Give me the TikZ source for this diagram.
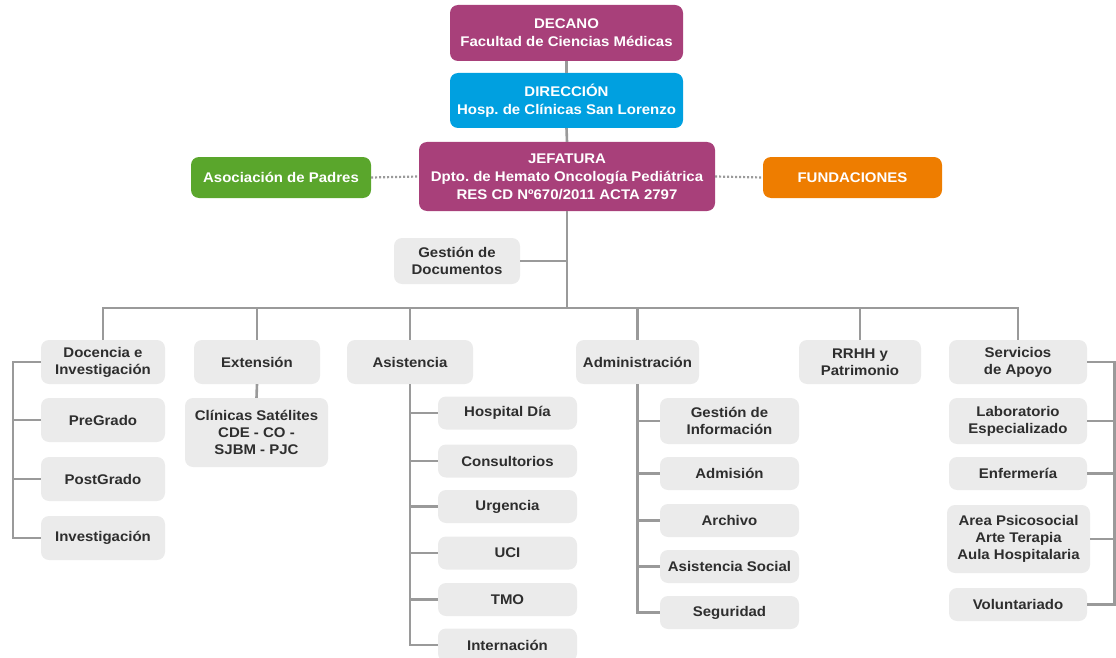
\documentclass[tikz,border=0pt]{standalone}
\usepackage{fontspec}
\setmainfont{Liberation Sans}[FakeStretch=1.07]
\definecolor{mag}{HTML}{A8407A}
\definecolor{blu}{HTML}{00A0E0}
\definecolor{grn}{HTML}{5AA62C}
\definecolor{org}{HTML}{EE7D00}
\definecolor{gfill}{HTML}{EBEBEB}
\definecolor{gline}{HTML}{9A9A9A}
\definecolor{gtext}{HTML}{2E2E2E}
\frenchspacing
\begin{document}
\begin{tikzpicture}[x=1pt,y=-1pt,
  box/.style={rounded corners=8pt, align=center, inner sep=0pt, font=\fontsize{14}{18}\selectfont\bfseries},
  cbox/.style={box, text=white},
  gbox/.style={box, fill=gfill, text=gtext, font=\fontsize{14}{17}\selectfont\bfseries},
  conn/.style={draw=gline, line width=2.6pt},
  dots/.style={draw=gline, line width=2.2pt, dash pattern=on 2pt off 2pt}]
\useasboundingbox (0,0) rectangle (1116,658);
% top
\node[cbox, fill=mag, minimum width=233, minimum height=56] (dec) at (566.5,33) {DECANO\\Facultad de Ciencias Médicas};
\node[cbox, fill=blu, minimum width=233, minimum height=55] (dir) at (566.5,100.5) {DIRECCIÓN\\Hosp. de Clínicas San Lorenzo};
\node[cbox, fill=mag, minimum width=296, minimum height=69] (jef) at (567,176.5) {JEFATURA\\Dpto. de Hemato Oncología Pediátrica\\RES CD Nº670/2011 ACTA 2797};
\node[cbox, fill=grn, minimum width=180, minimum height=41] (aso) at (281,177.5) {Asociación de Padres};
\node[cbox, fill=org, minimum width=179, minimum height=41] (fun) at (852.5,177.5) {FUNDACIONES};
\node[gbox, minimum width=126, minimum height=46] (gd) at (457,261) {Gestión de\\Documentos};
% level 2
\node[gbox, minimum width=124, minimum height=44] (doc) at (103,362) {Docencia e\\Investigación};
\node[gbox, minimum width=126, minimum height=44] (ext) at (257,362) {Extensión};
\node[gbox, minimum width=126, minimum height=44] (asi) at (410,362) {Asistencia};
\node[gbox, minimum width=123, minimum height=44] (adm) at (637.5,362) {Administración};
\node[gbox, minimum width=122, minimum height=44] (rrhh) at (860,362) {RRHH y\\Patrimonio};
\node[gbox, minimum width=138, minimum height=44] (ser) at (1018,362) {Servicios\\de Apoyo};
% docencia children
\node[gbox, minimum width=124, minimum height=44] (pre) at (103,420) {PreGrado};
\node[gbox, minimum width=124, minimum height=44] (pos) at (103,479) {PostGrado};
\node[gbox, minimum width=124, minimum height=44] (inv) at (103,538) {Investigación};
% extension child
\node[gbox, minimum width=143, minimum height=69] (cli) at (256.5,432.5) {Clínicas Satélites\\CDE - CO -\\SJBM - PJC};
% asistencia children
\node[gbox, minimum width=139, minimum height=33] (hd) at (507.5,413) {Hospital Día};
\node[gbox, minimum width=139, minimum height=33] (con) at (507.5,461) {Consultorios};
\node[gbox, minimum width=139, minimum height=33] (urg) at (507.5,506.5) {Urgencia};
\node[gbox, minimum width=139, minimum height=33] (uci) at (507.5,553) {UCI};
\node[gbox, minimum width=139, minimum height=33] (tmo) at (507.5,599.5) {TMO};
\node[gbox, minimum width=139, minimum height=33] (int) at (507.5,645) {Internación};
% administracion children
\node[gbox, minimum width=139, minimum height=46] (gi) at (729.5,421) {Gestión de\\Información};
\node[gbox, minimum width=139, minimum height=33] (adn) at (729.5,473.5) {Admisión};
\node[gbox, minimum width=139, minimum height=33] (arc) at (729.5,520.5) {Archivo};
\node[gbox, minimum width=139, minimum height=33] (aso2) at (729.5,566.5) {Asistencia Social};
\node[gbox, minimum width=139, minimum height=33] (seg) at (729.5,612.5) {Seguridad};
% servicios children
\node[gbox, minimum width=138, minimum height=46] (lab) at (1018,421) {Laboratorio\\Especializado};
\node[gbox, minimum width=138, minimum height=33] (enf) at (1018,473.5) {Enfermería};
\node[gbox, minimum width=143, minimum height=68] (are) at (1018.5,539) {Area Psicosocial\\Arte Terapia\\Aula Hospitalaria};
\node[gbox, minimum width=138, minimum height=33] (vol) at (1018,604.5) {Voluntariado};
% connectors
\coordinate (bus) at (0,308);
\coordinate (dsp) at (13,0);
\coordinate (ssp) at (1114.5,0);
\draw[conn] (dec.south) -- (dir.north);
\draw[conn] (dir.south) -- (jef.north);
\draw[dots] (aso.east) -- (jef.west);
\draw[dots] (jef.east) -- (fun.west);
\draw[conn] (jef.south) -- (jef.south |- bus);
\draw[conn] (gd.east) -- (gd.east -| jef.south);
\draw[conn, line cap=rect] (doc.north |- bus) -- (ser.north |- bus);
\foreach \n in {doc,ext,asi,adm,rrhh,ser} \draw[conn] (\n.north) -- (\n.north |- bus);
\draw[conn] (doc.west) -- (doc.west -| dsp) -- (inv.west -| dsp) -- (inv.west);
\foreach \n in {pre,pos} \draw[conn] (\n.west) -- (\n.west -| dsp);
\draw[conn] (ext.south) -- (cli.north);
\draw[conn] (asi.south) -- (asi.south |- int.west) -- (int.west);
\foreach \n in {hd,con,urg,uci,tmo} \draw[conn] (\n.west) -- (\n.west -| asi.south);
\draw[conn] (adm.south) -- (adm.south |- seg.west) -- (seg.west);
\foreach \n in {gi,adn,arc,aso2} \draw[conn] (\n.west) -- (\n.west -| adm.south);
\draw[conn] (ser.east) -- (ser.east -| ssp) -- (vol.east -| ssp) -- (vol.east);
\foreach \n in {lab,enf,are} \draw[conn] (\n.east) -- (\n.east -| ssp);
\end{tikzpicture}
\end{document}
